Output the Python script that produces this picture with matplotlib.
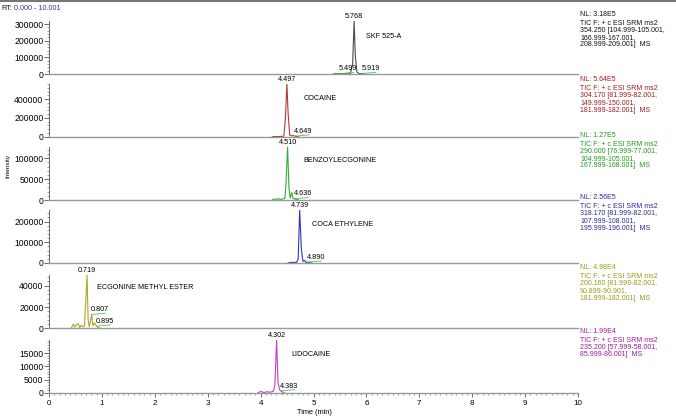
import matplotlib
matplotlib.use("Agg")
import numpy as np
import matplotlib.pyplot as plt
from matplotlib.ticker import FixedLocator, AutoMinorLocator, MultipleLocator
from matplotlib.lines import Line2D

# ---------------- data ----------------
compounds = ["SKF 525-A", "COCAINE", "BENZOYLECGONINE", "COCA ETHYLENE",
             "ECGONINE METHYL ESTER", "LIDOCAINE"]
nl_values = [3.18e5, 5.64e5, 1.27e5, 2.56e5, 4.98e4, 1.99e4]
nl_labels = ["NL: 3.18E5", "NL: 5.64E5", "NL: 1.27E5", "NL: 2.56E5", "NL: 4.98E4", "NL: 1.99E4"]
scan_info = [
    ["TIC F: + c ESI SRM ms2", "354.250 [104.999-105.001,", "166.999-167.001,", "208.999-209.001]  MS"],
    ["TIC F: + c ESI SRM ms2", "304.170 [81.999-82.001,", "149.999-150.001,", "181.999-182.001]  MS"],
    ["TIC F: + c ESI SRM ms2", "290.000 [76.999-77.001,", "104.999-105.001,", "167.999-168.001]  MS"],
    ["TIC F: + c ESI SRM ms2", "318.170 [81.999-82.001,", "107.999-108.001,", "195.999-196.001]  MS"],
    ["TIC F: + c ESI SRM ms2", "200.160 [81.999-82.001,", "90.899-90.901,", "181.999-182.001]  MS"],
    ["TIC F: + c ESI SRM ms2", "235.200 [57.999-58.001,", "85.999-86.001]  MS"],
]
yticks = [
    [0, 100000, 200000, 300000],
    [0, 200000, 400000],
    [0, 50000, 100000],
    [0, 100000, 200000],
    [0, 20000, 40000],
    [0, 5000, 10000, 15000],
]

skf_t = [5.38, 5.42, 5.46, 5.499, 5.54, 5.58, 5.62, 5.66, 5.70, 5.74, 5.768, 5.79, 5.82, 5.86, 5.90, 5.919, 5.95, 5.98]
skf_i = [0, 1500, 800, 2500, 1000, 1800, 900, 1200, 5000, 60000, 318000, 110000, 12000, 3000, 1500, 2800, 1200, 0]

coc_t = [4.22, 4.28, 4.34, 4.40, 4.44, 4.47, 4.497, 4.52, 4.55, 4.58, 4.62, 4.649, 4.68, 4.72]
coc_i = [0, 2000, 1000, 3000, 5000, 200000, 564000, 250000, 20000, 9000, 12000, 6000, 2000, 0]

bze_t = [4.22, 4.26, 4.30, 4.34, 4.38, 4.42, 4.46, 4.48, 4.510, 4.535, 4.56, 4.59, 4.61, 4.636, 4.67, 4.72]
bze_i = [0, 2500, 1500, 3000, 1200, 2500, 4000, 40000, 127000, 30000, 5000, 18000, 4000, 3000, 1500, 0]

cet_t = [4.52, 4.56, 4.60, 4.64, 4.68, 4.71, 4.739, 4.77, 4.80, 4.83, 4.86, 4.890, 4.93, 4.97]
cet_i = [0, 3000, 1500, 4000, 2000, 20000, 256000, 70000, 8000, 12000, 3000, 4000, 1500, 0]

eme_t = [0.42, 0.46, 0.49, 0.52, 0.55, 0.58, 0.61, 0.64, 0.67, 0.70, 0.719, 0.74, 0.76, 0.78, 0.807, 0.83, 0.86, 0.895, 0.93, 0.97]
eme_i = [0, 4000, 1000, 3500, 4500, 500, 3000, 1500, 2000, 30000, 49800, 8000, 1500, 6000, 13000, 2500, 5000, 2000, 800, 0]

lid_t = [3.95, 4.00, 4.04, 4.08, 4.12, 4.16, 4.20, 4.24, 4.27, 4.302, 4.33, 4.36, 4.383, 4.41, 4.45]
lid_i = [0, 600, 300, 200, 500, 300, 400, 600, 3000, 19900, 4000, 1200, 800, 400, 0]

traces_t = [skf_t, coc_t, bze_t, cet_t, eme_t, lid_t]
traces_i = [skf_i, coc_i, bze_i, cet_i, eme_i, lid_i]

main_peaks = [5.768, 4.497, 4.510, 4.739, 0.719, 4.302]
minor_peaks = [[5.499, 5.919], [4.649], [4.636], [4.890], [0.807, 0.895], [4.383]]

# ---------------- style / layout ----------------
line_colors = ["#4a4a4a", "#b03a3a", "#2fb02f", "#3535b5", "#a9a92a", "#c23ec2"]
text_colors = ["#111111", "#a01c1c", "#1f9a1f", "#2a2a9a", "#9a9a1a", "#9a1a9a"]
name_x = [5.99, 4.82, 4.80, 4.98, 0.90, 4.575]
name_y = [0.70, 0.72, 0.74, 0.73, 0.77, 0.72]
nl_y_px = [14, 79, 135, 197, 267, 331]
FONT = "Liberation Sans"
plt.rcParams["font.family"] = [FONT, "DejaVu Sans"]

W, H = 676, 417
fig = plt.figure(figsize=(W / 100, H / 100), dpi=100)

left_px, right_px = 49, 578
bottoms_px = [74, 136.7, 200, 263, 328.3, 393]
height_px = 53

for k in range(6):
    b = bottoms_px[k]
    ax = fig.add_axes([left_px / W, (H - b) / H, (right_px - left_px) / W, height_px / H])
    ax.plot(traces_t[k], traces_i[k], color=line_colors[k], lw=0.8)
    ax.set_xlim(0, 10)
    ax.set_ylim(0, nl_values[k])
    ax.patch.set_alpha(0)
    for s in ["top", "right"]:
        ax.spines[s].set_visible(False)
    ax.spines["left"].set_color("#666666")
    ax.spines["left"].set_linewidth(0.7)
    ax.spines["bottom"].set_color("#999999")
    ax.spines["bottom"].set_linewidth(1.0)
    ax.yaxis.set_major_locator(FixedLocator(yticks[k]))
    ax.set_yticklabels([str(v) for v in yticks[k]])
    ax.yaxis.set_minor_locator(AutoMinorLocator(5))
    ax.tick_params(axis="y", which="major", length=3.5, width=0.6, color="#555555",
                   labelsize=6.2, pad=0.5)
    ax.tick_params(axis="y", which="minor", length=1.5, width=0.5, color="#777777")
    if k < 5:
        ax.tick_params(axis="x", which="both", bottom=False, labelbottom=False)
    else:
        ax.xaxis.set_major_locator(MultipleLocator(1))
        ax.xaxis.set_minor_locator(MultipleLocator(0.1))
        ax.tick_params(axis="x", which="major", length=3, width=0.6, color="#555555",
                       labelsize=5.8, pad=2)
        ax.tick_params(axis="x", which="minor", length=1.5, width=0.5, color="#777777")

    # main peak label
    tp = main_peaks[k]
    ip = float(np.interp(tp, traces_t[k], traces_i[k]))
    ax.annotate(f"{tp:.3f}", xy=(tp, ip), xytext=(0, 0.8), textcoords="offset points",
                ha="center", va="bottom", fontsize=5.2, annotation_clip=False)
    # minor peak labels
    for tm in minor_peaks[k]:
        im = float(np.interp(tm, traces_t[k], traces_i[k]))
        ax.annotate(f"{tm:.3f}", xy=(tm, im), xytext=(-0.5, 0.9), textcoords="offset points",
                    ha="left", va="bottom", fontsize=5.2, annotation_clip=False,
                    arrowprops=dict(arrowstyle="-", color="#44cc44", lw=0.6,
                                    shrinkA=0, shrinkB=0, relpos=(0.8, 0.0)))
    # compound name
    ax.text(name_x[k], name_y[k], compounds[k], transform=ax.get_xaxis_transform(),
            ha="left", va="center", fontsize=5.2)

    # right-hand info block (baseline-aligned lines for even spacing)
    y0 = nl_y_px[k] + 2
    fig.text(580 / W, 1 - y0 / H, nl_labels[k], ha="left", va="baseline",
             fontsize=5, color=text_colors[k])
    for j, line in enumerate(scan_info[k]):
        yy = y0 + 8.6 + 7.3 * j
        fig.text(580 / W, 1 - yy / H, line, ha="left", va="baseline",
                 fontsize=5, color=text_colors[k])

# header
fig.add_artist(Line2D([0, 1], [1 - 1.2 / H, 1 - 1.2 / H], color="#777777", lw=1.5))
fig.text(1 / W, 1 - 8.5 / H, "RT:", ha="left", va="center", fontsize=5.2, color="#111111")
fig.text(13.5 / W, 1 - 8.5 / H, "0.000 - 10.001", ha="left", va="center", fontsize=5.2,
         color="#2b3a9e")

fig.text(8 / W, 1 - 166 / H, "Intensity", rotation=90, ha="center", va="center", fontsize=4.6)
fig.text(314 / W, 1 - 412 / H, "Time (min)", ha="center", va="center", fontsize=5.3)

fig.savefig("out.png", dpi=100)
